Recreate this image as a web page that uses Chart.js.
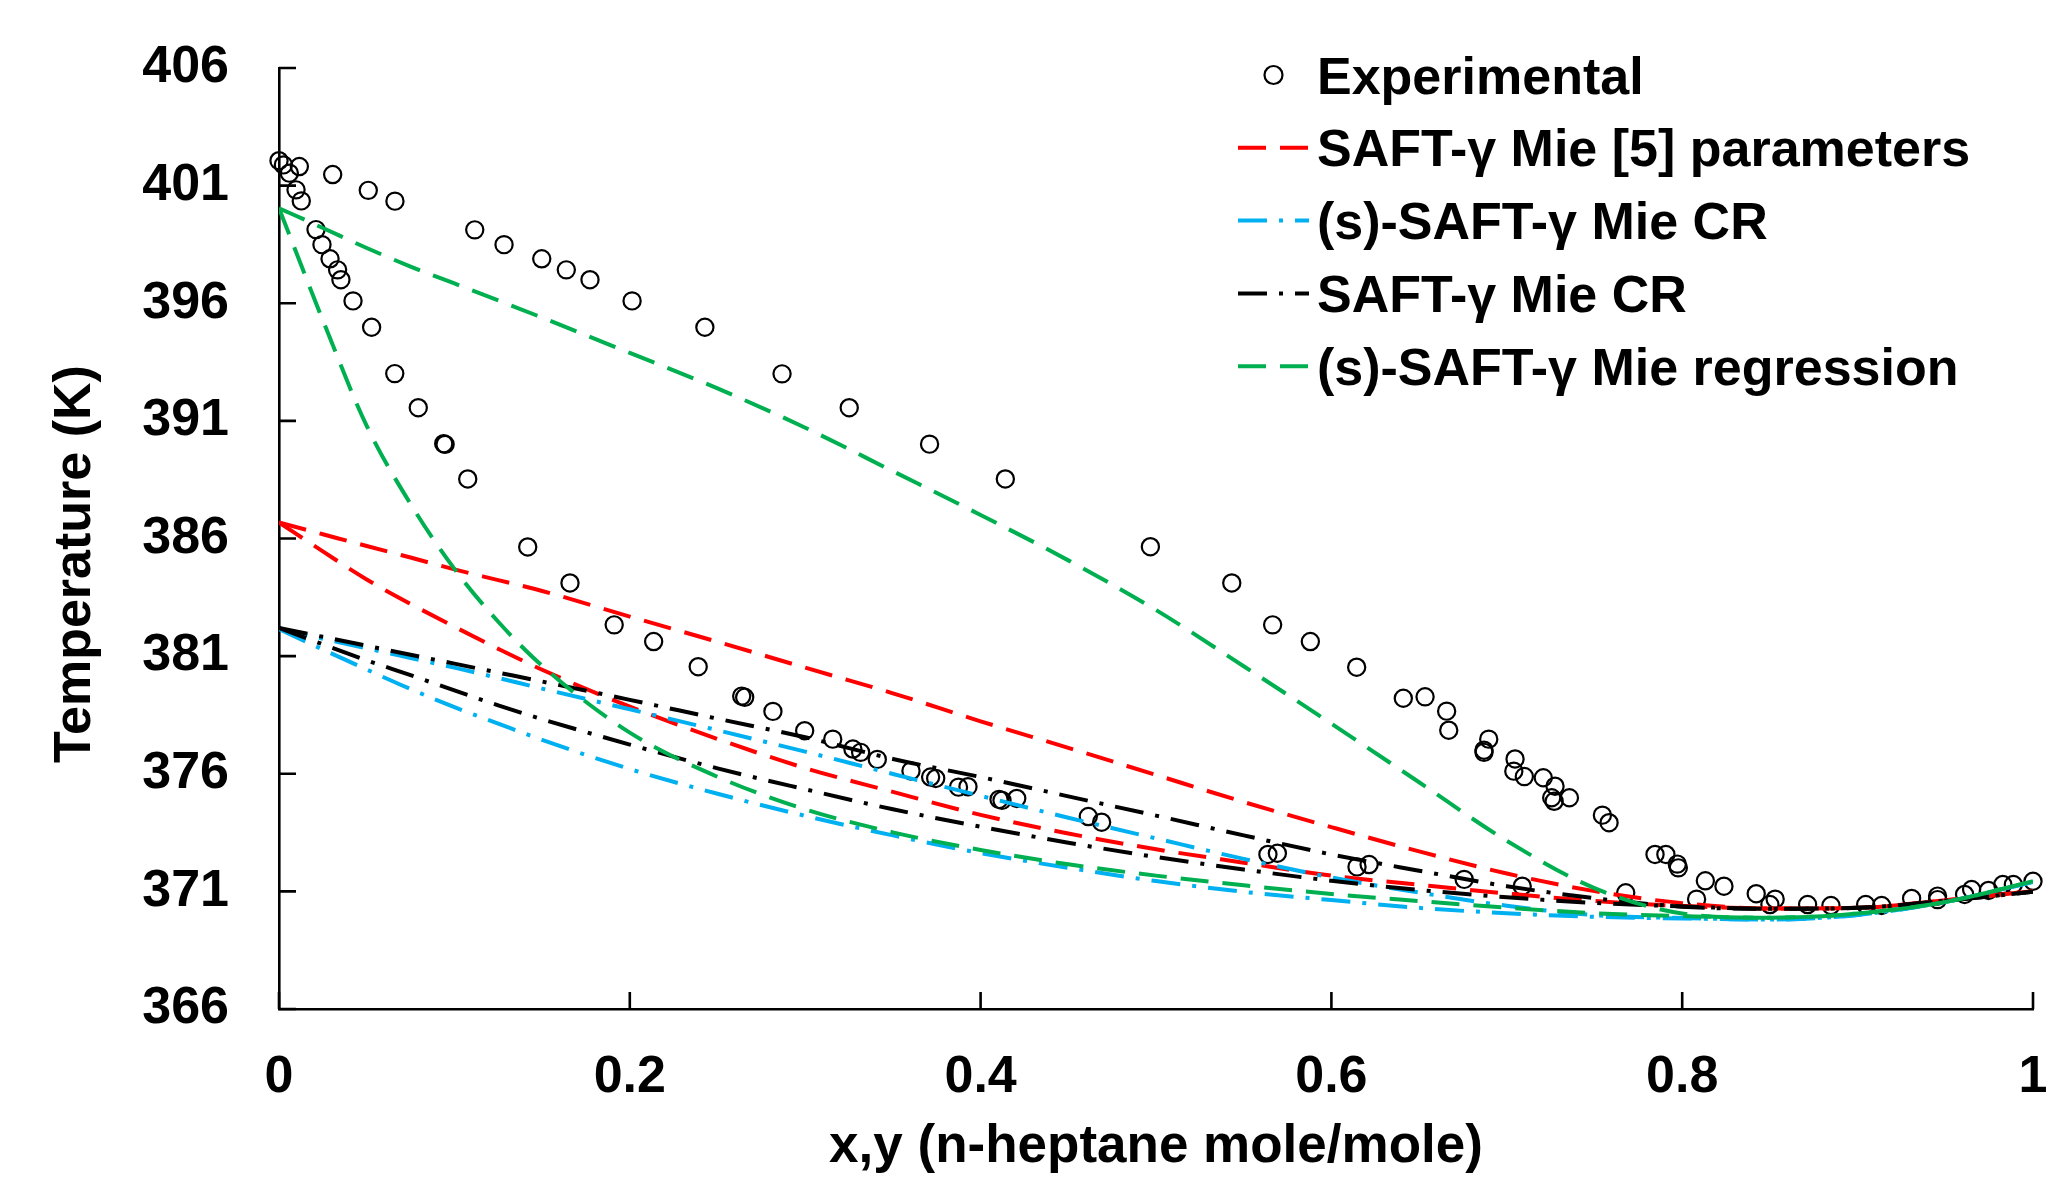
<!DOCTYPE html>
<html>
<head>
<meta charset="utf-8">
<style>
  html, body { margin: 0; padding: 0; background: #ffffff; }
  #wrap { width: 2066px; height: 1179px; }
</style>
<script src="https://cdn.jsdelivr.net/npm/chart.js@4.4.1/dist/chart.umd.min.js"></script>
</head>
<body>
<div id="wrap"><canvas id="c" width="2066" height="1179"></canvas></div>
<script>
// ---------- data ----------
const xTickValues = [0, 0.2, 0.4, 0.6, 0.8, 1];
const xTickLabels = ["0", "0.2", "0.4", "0.6", "0.8", "1"];
const yTickValues = [366, 371, 376, 381, 386, 391, 396, 401, 406];
const yTickLabels = ["366", "371", "376", "381", "386", "391", "396", "401", "406"];

const xAxisTitle = "x,y (n-heptane mole/mole)";
const yAxisTitle = "Temperature (K)";

const seriesNames = [
  "Experimental",
  "SAFT-\u03b3 Mie [5] parameters",
  "(s)-SAFT-\u03b3 Mie CR",
  "SAFT-\u03b3 Mie CR",
  "(s)-SAFT-\u03b3 Mie regression"
];

// experimental, dew branch
const expDewX = [0.000,0.0025,0.0116,0.0306,0.0509,0.0661,0.1116,0.1283,0.1498,0.1638,0.1773,0.2013,0.2428,0.2868,0.3251,0.3709,0.4141,0.4968,0.5432,0.5665,0.5880,0.6144,0.6410,0.6534,0.6657,0.6669,0.6897,0.6870,0.6870,0.7047,0.7040,0.7100,0.7208,0.7275,0.7256,0.7270,0.7357,0.7545,0.7583,0.7845,0.7907,0.7972,0.7978,0.8132,0.8238,0.8422,0.8530];
const expDewT = [402.06,401.88,401.81,401.47,400.80,400.34,399.12,398.49,397.89,397.42,397.00,396.10,394.98,393.00,391.56,390.01,388.53,385.65,384.11,382.33,381.62,380.53,379.21,379.27,378.66,377.85,377.47,377.00,376.91,376.63,376.11,375.88,375.83,375.47,374.98,374.83,374.98,374.24,373.92,372.57,372.57,372.16,372.00,371.45,371.22,370.90,370.67];
// experimental, bubble branch
const expBubX = [0.0059,0.0097,0.0127,0.0211,0.0245,0.0291,0.0334,0.0353,0.0422,0.0528,0.0660,0.0794,0.0939,0.0947,0.1076,0.1418,0.1659,0.1911,0.2136,0.2390,0.2638,0.2655,0.2816,0.2997,0.3157,0.3272,0.3316,0.3411,0.3603,0.3715,0.3744,0.3874,0.3928,0.4105,0.4122,0.4206,0.4614,0.4690,0.5638,0.5692,0.6146,0.6215,0.6757,0.7088,0.7678,0.8082,0.8500,0.8715,0.8848,0.9046,0.9137,0.9308,0.9456,0.9456,0.9610,0.9650,0.9746,0.9828,0.9888,1.0000];
const expBubT = [401.53,400.82,400.35,399.13,398.49,397.89,397.42,397.00,396.10,394.98,393.01,391.56,390.03,390.00,388.53,385.64,384.11,382.33,381.62,380.55,379.30,379.25,378.65,377.83,377.47,377.05,376.91,376.61,376.12,375.86,375.80,375.43,375.45,374.91,374.87,374.95,374.18,373.94,372.57,372.62,372.04,372.14,371.51,371.22,370.94,370.67,370.44,370.44,370.40,370.44,370.40,370.70,370.80,370.65,370.87,371.08,371.04,371.29,371.29,371.43];

// model curves, sampled on a common composition grid
const xGrid = [0, 0.025, 0.05, 0.075, 0.1, 0.125, 0.15, 0.2, 0.25, 0.3, 0.35, 0.4, 0.45, 0.5, 0.55, 0.6, 0.65, 0.7, 0.75, 0.8, 0.85, 0.9, 0.95, 1];
const redDewT   = [386.68,386.18,385.68,385.19,384.69,384.23,383.77,382.68,381.61,380.51,379.42,378.23,377.10,375.95,374.80,373.73,372.70,371.76,371.01,370.50,370.27,370.30,370.62,371.01];
const redBubT   = [386.68,385.45,384.26,383.22,382.25,381.31,380.42,378.85,377.48,376.24,375.23,374.25,373.46,372.79,372.22,371.67,371.28,370.91,370.59,370.38,370.27,370.30,370.62,371.01];
const cyanDewT  = [382.15,381.74,381.33,380.92,380.51,380.07,379.62,378.74,377.85,376.94,375.99,375.06,374.13,373.25,372.38,371.59,370.95,370.39,369.99,369.87,369.80,370.00,370.55,371.40];
const cyanBubT  = [382.15,381.28,380.43,379.60,378.83,378.13,377.44,376.20,375.15,374.21,373.38,372.63,372.00,371.44,370.98,370.63,370.30,370.07,369.92,369.85,369.80,370.00,370.55,371.40];
const blackDewT = [382.20,381.82,381.44,381.06,380.68,380.30,379.92,379.14,378.34,377.55,376.63,375.86,375.04,374.22,373.38,372.57,371.88,371.22,370.71,370.35,370.26,370.30,370.60,370.98];
const blackBubT = [382.20,381.50,380.82,380.19,379.54,378.91,378.32,377.24,376.23,375.34,374.49,373.75,373.07,372.46,371.93,371.45,371.06,370.75,370.51,370.36,370.26,370.30,370.60,370.98];
const greenDewT = [400.04,399.20,398.35,397.56,396.84,396.12,395.39,393.89,392.38,390.71,388.86,387.00,385.07,382.96,380.57,378.13,375.64,373.15,371.14,370.06,369.88,370.06,370.55,371.43];
const greenBubT = [400.04,395.28,390.79,387.47,384.71,382.46,380.59,377.75,375.87,374.49,373.51,372.76,372.15,371.67,371.26,370.89,370.59,370.31,370.07,369.95,369.88,370.06,370.55,371.43];

// ---------- build ----------
const pts = (xs, ys) => xs.map((x, i) => ({ x: x, y: ys[i] }));
const FONT = "'Liberation Sans', Arial, Helvetica, sans-serif";

const DASH = [28, 14];
const DASHDOT = [29, 12, 4, 12];

function modelSet(label, T, color, dash, order, inLegend) {
  return {
    label: label,
    data: pts(xGrid, T),
    borderColor: color,
    backgroundColor: color,
    borderWidth: 4,
    borderDash: dash,
    borderCapStyle: 'butt',
    pointRadius: 0,
    pointHoverRadius: 0,
    showLine: true,
    fill: false,
    cubicInterpolationMode: 'monotone',
    order: order,
    inLegend: inLegend
  };
}

const datasets = [
  {
    label: seriesNames[0],
    data: pts(expDewX, expDewT).concat(pts(expBubX, expBubT)),
    showLine: false,
    pointStyle: 'circle',
    pointRadius: 8.6,
    pointHoverRadius: 8.6,
    pointBorderWidth: 2.2,
    borderColor: '#000000',
    pointBorderColor: '#000000',
    pointBackgroundColor: 'rgba(0,0,0,0)',
    backgroundColor: 'rgba(0,0,0,0)',
    order: 10,
    clip: false,
    inLegend: true,
    isMarker: true
  },
  modelSet(seriesNames[1], redDewT,   '#FF0000', DASH,    4, true),
  modelSet(seriesNames[1], redBubT,   '#FF0000', DASH,    4, false),
  modelSet(seriesNames[2], cyanDewT,  '#00B0F0', DASHDOT, 3, true),
  modelSet(seriesNames[2], cyanBubT,  '#00B0F0', DASHDOT, 3, false),
  modelSet(seriesNames[3], blackDewT, '#000000', DASHDOT, 2, true),
  modelSet(seriesNames[3], blackBubT, '#000000', DASHDOT, 2, false),
  modelSet(seriesNames[4], greenDewT, '#00B050', DASH,    1, true),
  modelSet(seriesNames[4], greenBubT, '#00B050', DASH,    1, false)
];

// inward tick marks drawn from the library's scales
const inwardTicks = {
  id: 'inwardTicks',
  beforeDatasetsDraw(chart) {
    const { ctx, chartArea, scales } = chart;
    const len = 17;
    ctx.save();
    ctx.strokeStyle = '#000';
    ctx.lineWidth = 2.6;
    ctx.beginPath();
    scales.x.ticks.forEach(t => {
      const px = scales.x.getPixelForValue(t.value);
      ctx.moveTo(px, chartArea.bottom);
      ctx.lineTo(px, chartArea.bottom - len);
    });
    scales.y.ticks.forEach(t => {
      const py = scales.y.getPixelForValue(t.value);
      ctx.moveTo(chartArea.left, py);
      ctx.lineTo(chartArea.left + len, py);
    });
    ctx.stroke();
    ctx.restore();
  }
};

// vertical axis title, centred where the original places it
const yTitlePlugin = {
  id: 'yTitle',
  afterDraw(chart, args, opts) {
    const { ctx } = chart;
    ctx.save();
    ctx.font = 'bold ' + opts.size + 'px ' + FONT;
    ctx.fillStyle = '#000';
    ctx.textAlign = 'center';
    ctx.textBaseline = 'middle';
    ctx.translate(opts.x, opts.y);
    ctx.rotate(-Math.PI / 2);
    ctx.fillText(opts.text, 0, 0);
    ctx.restore();
  }
};

// legend inside the plot, built from the datasets
const innerLegend = {
  id: 'innerLegend',
  afterDraw(chart, args, opts) {
    const { ctx } = chart;
    const items = chart.data.datasets.filter(d => d.inLegend);
    ctx.save();
    ctx.font = 'bold ' + opts.fontSize + 'px ' + FONT;
    ctx.textAlign = 'left';
    ctx.textBaseline = 'alphabetic';
    items.forEach((d, i) => {
      const y = opts.top + i * opts.step;
      if (d.isMarker) {
        ctx.beginPath();
        ctx.lineWidth = 2.2;
        ctx.strokeStyle = '#000';
        ctx.arc((opts.lineX0 + opts.lineX1) / 2, y, 9, 0, Math.PI * 2);
        ctx.stroke();
      } else {
        ctx.beginPath();
        ctx.lineWidth = d.borderWidth;
        ctx.strokeStyle = d.borderColor;
        ctx.lineCap = 'butt';
        ctx.setLineDash(d.borderDash);
        ctx.moveTo(opts.lineX0, y);
        ctx.lineTo(opts.lineX1, y);
        ctx.stroke();
        ctx.setLineDash([]);
      }
      ctx.fillStyle = '#000';
      ctx.fillText(d.label, opts.textX, y + opts.baselineShift);
    });
    ctx.restore();
  }
};

const chart = new Chart(document.getElementById('c'), {
  type: 'line',
  data: { datasets: datasets },
  plugins: [inwardTicks, yTitlePlugin, innerLegend],
  options: {
    responsive: false,
    devicePixelRatio: 1,
    animation: false,
    layout: { padding: { top: 68, right: 33, left: 0, bottom: 0 } },
    plugins: {
      legend: { display: false },
      tooltip: { enabled: false },
      yTitle: { text: yAxisTitle, x: 76, y: 564, size: 52 },
      innerLegend: {
        top: 75, step: 72.8, lineX0: 1238, lineX1: 1309, textX: 1317,
        fontSize: 52, baselineShift: 18.5
      }
    },
    scales: {
      x: {
        type: 'linear',
        min: 0, max: 1,
        afterFit(scale) {
          scale.height = 170;
          scale.paddingLeft = 0; scale.paddingRight = 0;
        },
        afterBuildTicks(scale) { scale.ticks = xTickValues.map(v => ({ value: v })); },
        grid: { display: true, drawOnChartArea: false, drawTicks: false },
        border: { display: true, color: '#000', width: 2.6 },
        ticks: {
          autoSkip: false, maxRotation: 0, padding: 37, color: '#000',
          font: { family: FONT, size: 52, weight: 'bold' },
          callback(value, index) { return xTickLabels[index]; }
        },
        title: {
          display: true, text: xAxisTitle, color: '#000',
          font: { family: FONT, size: 53, weight: 'bold' },
          padding: { top: 0, bottom: 0 }
        }
      },
      y: {
        type: 'linear',
        min: 366, max: 406,
        afterFit(scale) {
          scale.width = 279;
          scale.paddingTop = 0; scale.paddingBottom = 0;
        },
        afterBuildTicks(scale) { scale.ticks = yTickValues.map(v => ({ value: v })); },
        grid: { display: true, drawOnChartArea: false, drawTicks: false },
        border: { display: true, color: '#000', width: 2.6 },
        ticks: {
          autoSkip: false, padding: 50, color: '#000',
          font: { family: FONT, size: 52, weight: 'bold' },
          callback(value, index) { return yTickLabels[index]; }
        },
        title: { display: false, text: yAxisTitle }
      }
    }
  }
});
</script>
</body>
</html>
